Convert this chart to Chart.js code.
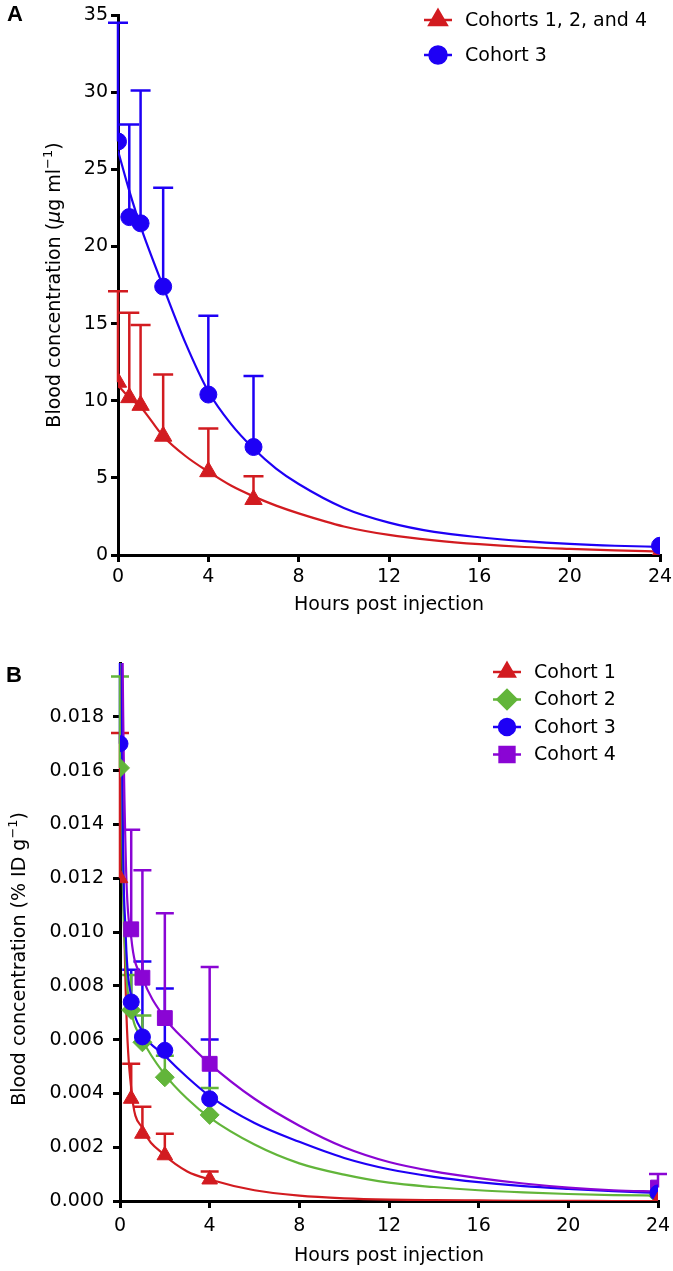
<!DOCTYPE html>
<html>
<head>
<meta charset="utf-8">
<script src="https://cdn.jsdelivr.net/npm/chart.js@4.4.0/dist/chart.umd.min.js"></script>
<style>
html, body { margin: 0; padding: 0; background: #fff; }
#wrap { position: relative; width: 673px; height: 1271px; }
.panel { position: absolute; left: 0; width: 673px; }
.letter { position: absolute; font: bold 22px "Liberation Sans", Arial, sans-serif; color: #000; }
</style>
</head>
<body>
<div id="wrap">
  <div class="panel" style="top:0;height:630px"><canvas id="chartA" width="673" height="630"></canvas></div>
  <div class="panel" style="top:630px;height:641px"><canvas id="chartB" width="673" height="641"></canvas></div>
  <div class="letter" style="left:7px;top:1px">A</div>
  <div class="letter" style="left:6px;top:662px">B</div>
</div>
<script>
// パネルA のデータ（µg/ml）
var hoursA = [0, 0.5, 1, 2, 4, 6, 24];
var cohort124A = [11.2, 10.2, 9.7, 7.7, 5.4, 3.6, 0.2];
var cohort124ErrA = [17.1, 15.7, 14.9, 11.7, 8.2, 5.1, null]; // エラーバー上端
var cohort3A = [26.8, 21.9, 21.5, 17.4, 10.4, 7.0, 0.6];
var cohort3ErrA = [34.5, 27.9, 30.1, 23.8, 15.5, 11.6, null];
// フィット曲線
var fitHoursA = [0, 0.5, 1, 2, 3, 4, 5, 6, 7, 8, 10, 12, 14, 16, 18, 20, 22, 24];
var fit124A = [11.0, 10.2, 9.6, 7.7, 6.4, 5.4, 4.5, 3.8, 3.2, 2.7, 1.85, 1.3, 0.95, 0.7, 0.52, 0.4, 0.3, 0.22];
var fit3A = [26.2, 23.6, 21.3, 17.4, 13.7, 10.6, 8.5, 6.9, 5.6, 4.6, 3.05, 2.1, 1.5, 1.15, 0.9, 0.72, 0.6, 0.53];

// パネルB のデータ（% ID/g）
var hoursB = [0, 0.5, 1, 2, 4, 24];
var cohort1B = [0.0120, 0.0038, 0.0025, 0.0017, 0.0008, 0.0000];
var cohort1ErrB = [0.0174, 0.0051, 0.0035, 0.0025, 0.0011, null];
var cohort2B = [0.0161, 0.0071, 0.0059, 0.0046, 0.0032, 0.0002];
var cohort2ErrB = [0.0195, 0.0084, 0.0069, 0.0054, 0.0042, null];
var cohort3B = [0.0170, 0.0074, 0.0061, 0.0056, 0.0038, 0.0003];
var cohort3ErrB = [0.0215, 0.0086, 0.0089, 0.0079, 0.0060, null];
var cohort4B = [null, 0.0101, 0.0083, 0.0068, 0.0051, 0.0005];
var cohort4ErrB = [null, 0.0138, 0.0123, 0.0107, 0.0087, 0.0010];
var fitHoursB = [0, 0.1, 0.25, 0.5, 1, 2, 3, 4, 6, 8, 10, 12, 14, 16, 18, 20, 22, 24];
var fit1B = [0.030, 0.016, 0.008, 0.0042, 0.0027, 0.0017, 0.0011, 0.0008, 0.0004, 0.0002, 0.0001, 0.00005, 0.00003, 0.00002, 0.00001, 0.00001, 0, 0];
var fit2B = [0.030, 0.014, 0.0090, 0.0071, 0.0060, 0.0047, 0.0038, 0.0031, 0.0021, 0.0014, 0.00098, 0.00068, 0.00052, 0.0004, 0.00032, 0.00026, 0.00022, 0.0002];
var fit3B = [0.035, 0.016, 0.010, 0.0076, 0.0063, 0.0054, 0.0046, 0.0039, 0.0029, 0.0022, 0.0016, 0.00118, 0.0009, 0.0007, 0.00055, 0.00045, 0.00037, 0.0003];
var fit4B = [0.040, 0.022, 0.013, 0.0098, 0.0083, 0.0068, 0.0059, 0.0051, 0.0038, 0.0028, 0.0020, 0.00145, 0.0011, 0.00085, 0.00065, 0.0005, 0.0004, 0.00035];

var RED = '#D21B20', BLUE = '#1E00F5', GREEN = '#62B53A', PURPLE = '#8A05D4';
var FONT = '"DejaVu Sans", Verdana, sans-serif';

function pts(xs, ys) {
  var out = [];
  for (var i = 0; i < xs.length; i++) {
    if (ys[i] !== null) out.push({x: xs[i], y: ys[i]});
  }
  return out;
}

function markSet(label, xs, ys, errs, color, style, radius) {
  return {
    label: label, data: pts(xs, ys), errTop: errs, errX: xs,
    backgroundColor: color, borderColor: color,
    pointStyle: style, pointRadius: radius, pointHoverRadius: radius,
    pointBorderWidth: 1, showLine: false
  };
}

function fitSet(xs, ys, color) {
  return {
    data: pts(xs, ys), borderColor: color, borderWidth: 2.2,
    pointRadius: 0, showLine: true, cubicInterpolationMode: 'monotone'
  };
}

// エラーバー（上側のみ）
var errorBars = {
  id: 'errorBars',
  beforeDatasetsDraw: function (chart) {
    var ctx = chart.ctx, area = chart.chartArea;
    var xs = chart.scales.x, ys = chart.scales.y;
    var cap = chart.options.plugins.errorBars.cap;
    ctx.save();
    ctx.beginPath();
    ctx.rect(area.left - 20, area.top, area.right - area.left + 40, area.bottom - area.top);
    ctx.clip();
    chart.data.datasets.forEach(function (ds) {
      if (!ds.errTop) return;
      ctx.strokeStyle = ds.borderColor;
      ctx.lineWidth = 2.5;
      ds.errX.forEach(function (xv, i) {
        var top = ds.errTop[i];
        var p = ds.data.find(function (d) { return d.x === xv; });
        if (top === null || !p) return;
        var px = xs.getPixelForValue(xv);
        var y0 = ys.getPixelForValue(p.y), y1 = ys.getPixelForValue(top);
        ctx.beginPath();
        ctx.moveTo(px, y0); ctx.lineTo(px, y1);
        ctx.moveTo(px - cap, y1); ctx.lineTo(px + cap, y1);
        ctx.stroke();
      });
    });
    ctx.restore();
  }
};

// 凡例（線＋マーカー）
var markLegend = {
  id: 'markLegend',
  afterDraw: function (chart) {
    var o = chart.options.plugins.markLegend;
    var ctx = chart.ctx;
    ctx.save();
    o.items.forEach(function (it, i) {
      var y = o.y + i * o.step;
      ctx.strokeStyle = it.color;
      ctx.lineWidth = 2.5;
      ctx.beginPath();
      ctx.moveTo(o.x - 14, y); ctx.lineTo(o.x + 14, y);
      ctx.stroke();
      ctx.fillStyle = it.color;
      Chart.helpers.drawPoint(ctx, {pointStyle: it.style, radius: it.radius, rotation: 0, borderWidth: 1}, o.x, y);
      ctx.fillStyle = '#000';
      ctx.font = '19px ' + FONT;
      ctx.textAlign = 'left';
      ctx.textBaseline = 'middle';
      ctx.fillText(it.text, o.x + 27, y + 1);
    });
    ctx.restore();
  }
};

// 縦軸タイトル（上付き文字つき）
var yTitle = {
  id: 'yTitle',
  afterDraw: function (chart) {
    var o = chart.options.plugins.yTitle;
    var ctx = chart.ctx, ys = chart.scales.y;
    var t = ys.ticks;
    var yc = (ys.getPixelForValue(t[0].value) + ys.getPixelForValue(t[t.length - 1].value)) / 2;
    var fonts = {n: '19px ' + FONT, i: 'italic 19px ' + FONT, s: '13px ' + FONT};
    var total = 0;
    o.parts.forEach(function (p) { ctx.font = fonts[p.f]; total += ctx.measureText(p.t).width; });
    ctx.save();
    ctx.translate(o.x, yc);
    ctx.rotate(-Math.PI / 2);
    ctx.fillStyle = '#000';
    ctx.textAlign = 'left';
    ctx.textBaseline = 'middle';
    var cx = -total / 2;
    o.parts.forEach(function (p) {
      ctx.font = fonts[p.f];
      ctx.fillText(p.t, cx, p.f === 's' ? -6 : 0);
      cx += ctx.measureText(p.t).width;
    });
    ctx.restore();
  }
};

function axisOpts(cfg) {
  return {
    x: {
      type: 'linear', min: 0, max: 24,
      afterFit: function (s) { s.height = cfg.xHeight; s.paddingLeft = 0; s.paddingRight = 0; },
      ticks: {stepSize: 4, color: '#000', padding: cfg.xPad, font: {family: FONT, size: 19}},
      grid: {drawOnChartArea: false, drawTicks: true, tickLength: 7, color: '#000', lineWidth: 3},
      border: {display: true, color: '#000', width: 3},
      title: {display: true, text: 'Hours post injection', color: '#000',
              font: {family: FONT, size: 19}, padding: {top: 0, bottom: cfg.titlePad}}
    },
    y: {
      type: 'linear', min: 0, max: cfg.yMax,
      afterFit: function (s) { s.width = cfg.yWidth; s.paddingTop = 0; s.paddingBottom = 0; },
      afterBuildTicks: function (s) {
        s.ticks = s.ticks.filter(function (t) { return t.value <= cfg.lastTick + 1e-9; });
      },
      ticks: {stepSize: cfg.yStep, color: '#000', padding: cfg.yPad, font: {family: FONT, size: 19},
              callback: cfg.fmt},
      grid: {drawOnChartArea: false, drawTicks: true, tickLength: 7, color: '#000', lineWidth: 3},
      border: {display: true, color: '#000', width: 3}
    }
  };
}

// パネルA
new Chart(document.getElementById('chartA'), {
  type: 'scatter',
  data: {
    datasets: [
      markSet('Cohort 3', hoursA, cohort3A, cohort3ErrA, BLUE, 'circle', 8.5),
      markSet('Cohorts 1, 2, and 4', hoursA, cohort124A, cohort124ErrA, RED, 'triangle', 10),
      fitSet(fitHoursA, fit3A, BLUE),
      fitSet(fitHoursA, fit124A, RED)
    ]
  },
  options: {
    responsive: false, animation: false,
    layout: {padding: {left: 0, top: 15, right: 13, bottom: 0}},
    scales: axisOpts({xHeight: 75, xPad: 4, titlePad: 14, yMax: 35, yStep: 5, lastTick: 35,
                      yWidth: 118, yPad: 3, fmt: function (v) { return v; }}),
    plugins: {
      legend: {display: false}, tooltip: {enabled: false},
      errorBars: {cap: 10},
      markLegend: {x: 438, y: 20, step: 35, items: [
        {text: 'Cohorts 1, 2, and 4', color: RED, style: 'triangle', radius: 10},
        {text: 'Cohort 3', color: BLUE, style: 'circle', radius: 8.5}
      ]},
      yTitle: {x: 55, parts: [{t: 'Blood concentration (', f: 'n'}, {t: 'μ', f: 'i'},
                              {t: 'g ml', f: 'n'}, {t: '−1', f: 's'}, {t: ')', f: 'n'}]}
    }
  },
  plugins: [errorBars, markLegend, yTitle]
});

// パネルB
new Chart(document.getElementById('chartB'), {
  type: 'scatter',
  data: {
    datasets: [
      markSet('Cohort 1', hoursB, cohort1B, cohort1ErrB, RED, 'triangle', 9),
      markSet('Cohort 3', hoursB, cohort3B, cohort3ErrB, BLUE, 'circle', 8),
      markSet('Cohort 2', hoursB, cohort2B, cohort2ErrB, GREEN, 'rectRot', 9.5),
      markSet('Cohort 4', hoursB, cohort4B, cohort4ErrB, PURPLE, 'rect', 10.5),
      fitSet(fitHoursB, fit4B, PURPLE),
      fitSet(fitHoursB, fit3B, BLUE),
      fitSet(fitHoursB, fit2B, GREEN),
      fitSet(fitHoursB, fit1B, RED)
    ]
  },
  options: {
    responsive: false, animation: false,
    layout: {padding: {left: 0, top: 33, right: 15, bottom: 0}},
    scales: axisOpts({xHeight: 70, xPad: 7, titlePad: 4, yMax: 0.02, yStep: 0.002, lastTick: 0.018,
                      yWidth: 120, yPad: 9, fmt: function (v) { return v.toFixed(3); }}),
    plugins: {
      legend: {display: false}, tooltip: {enabled: false},
      errorBars: {cap: 9},
      markLegend: {x: 507, y: 42, step: 27.5, items: [
        {text: 'Cohort 1', color: RED, style: 'triangle', radius: 9},
        {text: 'Cohort 2', color: GREEN, style: 'rectRot', radius: 9.5},
        {text: 'Cohort 3', color: BLUE, style: 'circle', radius: 8},
        {text: 'Cohort 4', color: PURPLE, style: 'rect', radius: 10.5}
      ]},
      yTitle: {x: 20, parts: [{t: 'Blood concentration (% ID g', f: 'n'}, {t: '−1', f: 's'}, {t: ')', f: 'n'}]}
    }
  },
  plugins: [errorBars, markLegend, yTitle]
});
</script>
</body>
</html>
